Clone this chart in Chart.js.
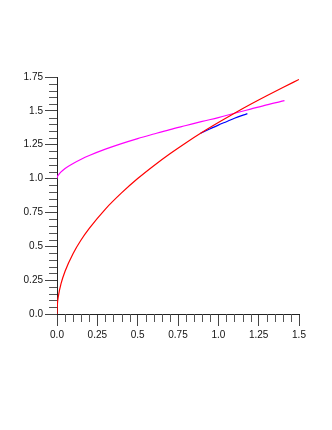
<!DOCTYPE html>
<html>
<head>
<meta charset="utf-8">
<script src="https://cdn.jsdelivr.net/npm/chart.js@4"></script>
<style>
  html, body { margin: 0; padding: 0; background: #fff; }
  #wrap { width: 332px; height: 430px; }
</style>
</head>
<body>
<div id="wrap"><canvas id="PlotChart"></canvas></div>
<script>
// values
const redX = [0, 0.002, 0.01, 0.025, 0.05, 0.1, 0.15, 0.2, 0.3, 0.4, 0.5, 0.6, 0.7, 0.8, 0.9, 1.0, 1.1, 1.2, 1.3, 1.4, 1.5];
const redY = [0, 0.063, 0.141, 0.224, 0.316, 0.447, 0.548, 0.632, 0.775, 0.894, 1.0, 1.095, 1.183, 1.265, 1.342, 1.414, 1.483, 1.549, 1.612, 1.673, 1.732];

const magentaX = [0, 0.002, 0.01, 0.025, 0.05, 0.1, 0.15, 0.2, 0.3, 0.4, 0.5, 0.6, 0.7, 0.8, 0.9, 1.0, 1.1, 1.2, 1.3, 1.41];
const magentaY = [1.0, 1.012, 1.028, 1.049, 1.075, 1.112, 1.143, 1.17, 1.217, 1.258, 1.295, 1.329, 1.362, 1.392, 1.422, 1.45, 1.482, 1.513, 1.544, 1.575];

const blueX = [0.89, 0.95, 1.0, 1.05, 1.1, 1.18];
const blueY = [1.335, 1.368, 1.395, 1.42, 1.445, 1.48];

const xTicks = [0, 0.25, 0.5, 0.75, 1.0, 1.25, 1.5];
const xTickLabels = ["0.0", "0.25", "0.5", "0.75", "1.0", "1.25", "1.5"];
const yTicks = [0, 0.25, 0.5, 0.75, 1.0, 1.25, 1.5, 1.75];
const yTickLabels = ["0.0", "0.25", "0.5", "0.75", "1.0", "1.25", "1.5", "1.75"];
const minorStep = 0.05;

function pts(xs, ys) {
  return xs.map((x, i) => ({ x: x, y: ys[i] }));
}

function line(label, xs, ys, color) {
  return {
    label: label,
    data: pts(xs, ys),
    showLine: true,
    borderColor: color,
    borderWidth: 1.2,
    pointRadius: 0,
    cubicInterpolationMode: "monotone",
    fill: false
  };
}

// short in-between ticks, put where the scales say
const minorTicks = {
  id: "minorTicks",
  afterDraw(chart) {
    const ctx = chart.ctx;
    const xs = chart.scales.x, ys = chart.scales.y;
    ctx.save();
    ctx.strokeStyle = "#555";
    ctx.lineWidth = 1;
    ctx.beginPath();
    for (let v = 0; v <= xs.max + 1e-9; v += minorStep) {
      if (Math.abs(v / 0.25 - Math.round(v / 0.25)) < 1e-6) continue;
      const px = Math.round(xs.getPixelForValue(v)) + 0.5;
      ctx.moveTo(px, ys.bottom);
      ctx.lineTo(px, ys.bottom + 8);
    }
    for (let v = 0; v <= ys.max + 1e-9; v += minorStep) {
      if (Math.abs(v / 0.25 - Math.round(v / 0.25)) < 1e-6) continue;
      const py = Math.round(ys.getPixelForValue(v)) + 0.5;
      ctx.moveTo(xs.left, py);
      ctx.lineTo(xs.left - 8, py);
    }
    ctx.stroke();
    ctx.restore();
  }
};

const PlotChart = document.getElementById("PlotChart");
new Chart(PlotChart, {
  type: "scatter",
  data: {
    datasets: [
      line("red", redX, redY, "rgb(255, 0, 0)"),
      line("magenta", magentaX, magentaY, "rgb(255, 0, 255)"),
      line("blue", blueX, blueY, "rgb(0, 0, 255)")
    ]
  },
  options: {
    responsive: true,
    maintainAspectRatio: false,
    animation: false,
    layout: { padding: { left: 0, top: 77, right: 33, bottom: 84 } },
    plugins: {
      legend: { display: false },
      tooltip: { enabled: false }
    },
    scales: {
      x: {
        type: "linear",
        min: 0,
        max: 1.5,
        afterBuildTicks: (s) => { s.ticks = xTicks.map(v => ({ value: v })); },
        afterFit: (s) => { s.height = 32; },
        ticks: {
          callback: (v, i) => xTickLabels[i],
          color: "#111",
          padding: 3,
          maxRotation: 0,
          font: { family: "Liberation Sans", size: 10 }
        },
        grid: { drawOnChartArea: false, tickLength: 12, tickColor: "#444" },
        border: { color: "#222", width: 1 }
      },
      y: {
        type: "linear",
        min: 0,
        max: 1.75,
        afterBuildTicks: (s) => { s.ticks = yTicks.map(v => ({ value: v })); },
        afterFit: (s) => { s.width = 57; },
        ticks: {
          callback: (v, i) => yTickLabels[i],
          color: "#111",
          padding: 2,
          font: { family: "Liberation Sans", size: 10 }
        },
        grid: { drawOnChartArea: false, tickLength: 12, tickColor: "#444" },
        border: { color: "#222", width: 1 }
      }
    }
  },
  plugins: [minorTicks]
});
</script>
</body>
</html>
